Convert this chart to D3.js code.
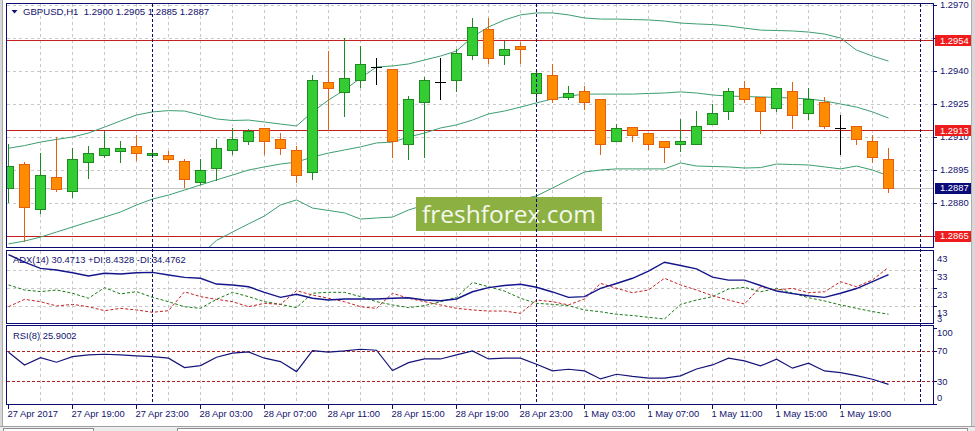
<!DOCTYPE html>
<html><head><meta charset="utf-8">
<script src="https://cdn.jsdelivr.net/npm/d3@7"></script>
<style>html,body{margin:0;padding:0;background:#fff;overflow:hidden}text{font-family:"Liberation Sans",Arial,sans-serif}</style>
</head><body><svg id="c" width="975" height="431"></svg>
<script>
// ---------------- DATA ----------------
const times = [
"27 Apr 15:00","27 Apr 16:00","27 Apr 17:00","27 Apr 18:00","27 Apr 19:00","27 Apr 20:00","27 Apr 21:00","27 Apr 22:00","27 Apr 23:00",
"28 Apr 00:00","28 Apr 01:00","28 Apr 02:00","28 Apr 03:00","28 Apr 04:00","28 Apr 05:00","28 Apr 06:00","28 Apr 07:00","28 Apr 08:00",
"28 Apr 09:00","28 Apr 10:00","28 Apr 11:00","28 Apr 12:00","28 Apr 13:00","28 Apr 14:00","28 Apr 15:00","28 Apr 16:00","28 Apr 17:00",
"28 Apr 18:00","28 Apr 19:00","28 Apr 20:00","28 Apr 21:00","28 Apr 22:00","28 Apr 23:00",
"1 May 00:00","1 May 01:00","1 May 02:00","1 May 03:00","1 May 04:00","1 May 05:00","1 May 06:00","1 May 07:00","1 May 08:00",
"1 May 09:00","1 May 10:00","1 May 11:00","1 May 12:00","1 May 13:00","1 May 14:00","1 May 15:00","1 May 16:00","1 May 17:00",
"1 May 18:00","1 May 19:00","1 May 20:00","1 May 21:00","1 May 22:00","1 May 23:00","2 May 00:00"];

const open = [1.28867,1.28976,1.28774,1.28917,1.28856,1.28988,1.29017,1.29038,1.29058,1.29017,1.29017,1.28990,1.28897,1.28958,
1.29040,1.29080,1.29140,1.29090,1.29040,1.28940,1.29349,1.29306,1.29358,1.29420,1.29408,1.29067,1.29258,1.29349,1.29358,
1.29471,1.29590,1.29471,1.29512,1.29299,1.29380,1.29280,1.29308,1.29271,1.29080,1.29147,1.29117,1.29080,1.29067,1.29067,
1.29158,1.29217,1.29321,1.29280,1.29230,1.29308,1.29208,1.29258,1.29140,1.29149,1.29080,1.29000];
const high = [1.29068,1.28988,1.29026,1.29099,1.29050,1.29060,1.29129,1.29080,1.29109,1.29045,1.29038,1.29000,1.28999,1.29091,
1.29140,1.29136,1.29142,1.29117,1.29059,1.29380,1.29491,1.29549,1.29515,1.29458,1.29410,1.29288,1.29371,1.29458,1.29499,
1.29640,1.29640,1.29538,1.29532,1.29408,1.29430,1.29330,1.29330,1.29271,1.29158,1.29147,1.29117,1.29080,1.29183,1.29220,
1.29249,1.29321,1.29353,1.29280,1.29321,1.29350,1.29321,1.29280,1.29199,1.29149,1.29108,1.29050];
const low = [1.28806,1.28629,1.28756,1.28856,1.28826,1.28915,1.29008,1.28988,1.28997,1.29008,1.28988,1.28874,1.28888,1.28905,
1.29023,1.29067,1.29024,1.29024,1.28897,1.28908,1.29132,1.29197,1.29329,1.29340,1.29008,1.28999,1.29008,1.29271,1.29308,
1.29455,1.29438,1.29430,1.29438,1.29268,1.29260,1.29271,1.29229,1.29024,1.29080,1.29080,1.29045,1.28988,1.29038,1.29067,
1.29158,1.29180,1.29258,1.29117,1.29217,1.29140,1.29180,1.29140,1.29024,1.29067,1.28988,1.28850];
const close = [1.28968,1.28783,1.28927,1.28865,1.28999,1.29026,1.29049,1.29049,1.29026,1.29026,1.28999,1.28908,1.28949,1.29049,
1.29090,1.29129,1.29080,1.29049,1.28927,1.29358,1.29321,1.29370,1.29430,1.29420,1.29080,1.29271,1.29358,1.29349,1.29480,
1.29599,1.29458,1.29499,1.29499,1.29390,1.29271,1.29299,1.29258,1.29067,1.29140,1.29108,1.29067,1.29056,1.29080,1.29149,
1.29208,1.29308,1.29271,1.29217,1.29321,1.29199,1.29271,1.29149,1.29140,1.29090,1.29008,1.28870];

const bbUpper = [1.29049,1.29061,1.29077,1.29089,1.29100,1.29118,1.29145,1.29173,1.29200,1.29214,1.29220,1.29218,1.29200,1.29182,
1.29175,1.29177,1.29168,1.29159,1.29150,1.29214,1.29268,1.29314,1.29368,1.29418,1.29423,1.29432,1.29450,1.29468,1.29491,
1.29555,1.29600,1.29632,1.29655,1.29664,1.29664,1.29655,1.29641,1.29636,1.29636,1.29634,1.29632,1.29627,1.29618,1.29614,
1.29611,1.29605,1.29595,1.29586,1.29584,1.29582,1.29577,1.29568,1.29550,1.29495,1.29468,1.29445];
const bbMiddle = [1.28614,1.28627,1.28645,1.28668,1.28691,1.28714,1.28736,1.28759,1.28791,1.28818,1.28836,1.28859,1.28882,1.28905,
1.28927,1.28950,1.28964,1.28977,1.28986,1.29009,1.29027,1.29041,1.29055,1.29073,1.29077,1.29100,1.29118,1.29141,1.29155,
1.29177,1.29205,1.29218,1.29236,1.29255,1.29273,1.29286,1.29295,1.29295,1.29295,1.29295,1.29298,1.29300,1.29305,1.29300,
1.29291,1.29286,1.29284,1.29282,1.29280,1.29277,1.29273,1.29264,1.29250,1.29236,1.29214,1.29186];
const bbLower = [null,null,null,null,null,null,null,null,null,null,null,null,
1.28564,1.28630,1.28668,1.28705,1.28741,1.28791,1.28814,1.28777,1.28766,1.28755,1.28727,1.28732,1.28736,1.28768,1.28791,
1.28795,1.28800,1.28805,1.28805,1.28809,1.28816,1.28832,1.28868,1.28905,1.28941,1.28950,1.28955,1.28955,1.28955,1.28955,
1.28982,1.28968,1.28966,1.28964,1.28959,1.28961,1.28977,1.28975,1.28973,1.28964,1.28955,1.28968,1.28950,1.28923];

const adx = [41.6,37.4,33.9,33.0,31.5,29.7,31.2,30.8,31.5,31.7,30.2,28.9,28.4,25.2,24.7,23.7,20.6,17.8,19.5,17.3,16.3,16.9,
16.9,16.9,17.3,17.6,16.3,15.9,16.9,20.9,23.2,24.4,25.1,23.4,20.8,17.8,18.2,22.8,25.5,28.4,32.4,37.3,35.5,33.6,29.0,27.4,
27.4,24.4,21.3,19.9,18.7,17.8,20.1,22.7,26.6,30.4713];
const plusDI = [24.7,21.9,21.0,21.9,20.1,17.3,23.2,19.7,21.0,17.8,15.4,12.6,11.7,16.7,20.6,18.2,15.4,13.9,12.1,20.1,20.6,
20.6,18.2,15.4,13.6,12.1,13.2,15.4,17.8,26.1,23.7,21.3,17.3,14.5,13.9,13.2,10.8,9.8,8.4,7.7,6.7,5.8,13.9,16.3,18.2,22.4,
23.4,20.9,22.8,20.2,17.6,15.8,13.6,11.7,9.9,8.4328];
const minusDI = [12.6,16.7,15.4,13.0,13.9,12.6,10.4,11.7,10.8,9.5,10.4,20.9,18.2,16.7,15.4,12.6,14.5,13.9,21.5,19.1,17.3,
15.4,12.6,11.7,20.1,17.3,15.4,13.6,11.7,10.8,10.2,10.2,8.9,16.3,15.4,13.6,16.9,25.6,22.8,20.4,21.9,28.4,24.7,21.9,18.7,
16.3,14.1,23.7,21.9,22.8,20.4,20.9,26.5,23.7,27.5,34.4762];
const rsi = [68.4,51.6,61.3,55.2,62.6,64.8,65.7,64.8,63.5,62.6,60.5,48.1,50.7,61.8,67.1,68.8,60.5,56.0,42.8,70.5,68.4,70.1,
72.3,71.0,44.1,54.7,59.5,59.5,64.8,70.1,59.5,60.5,60.5,52.5,43.7,45.9,43.7,33.1,39.3,36.4,34.1,34.1,37.1,46.3,51.6,60.5,
56.9,50.3,59.1,47.3,53.9,43.7,41.5,37.5,32.7,25.9002];

const priceTicks = [1.2970,1.2955,1.2940,1.2925,1.2910,1.2895,1.2880,1.2865];
const levels = [1.2954,1.2913,1.2865];
const bidPrice = 1.2887;
const adxTicks = [43,33,23,13,3];
const rsiTicks = [100,70,30,0];
const rsiLevels = [70,30];
const timeTickTimes = ["27 Apr 15:00","27 Apr 19:00","27 Apr 23:00","28 Apr 03:00","28 Apr 07:00","28 Apr 11:00","28 Apr 15:00",
"28 Apr 19:00","28 Apr 23:00","1 May 03:00","1 May 07:00","1 May 11:00","1 May 15:00","1 May 19:00"];
const timeTickLabels = ["27 Apr 2017","27 Apr 19:00","27 Apr 23:00","28 Apr 03:00","28 Apr 07:00","28 Apr 11:00","28 Apr 15:00",
"28 Apr 19:00","28 Apr 23:00","1 May 03:00","1 May 07:00","1 May 11:00","1 May 15:00","1 May 19:00"];
const separators = ["28 Apr 00:00","1 May 00:00","2 May 00:00"];
const symbol = "GBPUSD,H1";
const logoText = "freshforex.com";

// ---------------- LAYOUT / STYLE ----------------
const L = 7, R = 933;
const mainP = {t:4, b:248}, adxP = {t:251, b:324}, rsiP = {t:326, b:405};
const navy = "#0b0b72", txt = "#13136e", gridC = "#c8c8c8";
const FS = "9.4px";

const svg = d3.select("#c");
const x = d3.scalePoint().domain(times).range([8, 920]);
const y = d3.scaleLinear().domain([1.2860, 1.2970]).range([247, 5]);
const ya = d3.scaleLinear().domain([3, 43]).range([324, 252]);
const yr = d3.scaleLinear().domain([0, 100]).range([404, 328.3]);
const cr = v => Math.round(v) + 0.5;

// window frame
svg.append("rect").attr("x",0).attr("y",0).attr("width",975).attr("height",431).attr("fill","#fff");
svg.append("rect").attr("x",0).attr("y",0).attr("width",2).attr("height",431).attr("fill","#d8d8d8");
svg.append("line").attr("x1",2.5).attr("x2",2.5).attr("y1",0).attr("y2",426).attr("stroke","#a8a8a8");
svg.append("rect").attr("x",972).attr("y",0).attr("width",3).attr("height",431).attr("fill","#d8d8d8");
svg.append("line").attr("x1",971.5).attr("x2",971.5).attr("y1",0).attr("y2",426).attr("stroke","#b0b0b0");
svg.append("rect").attr("x",0).attr("y",426).attr("width",975).attr("height",5).attr("fill","#ececec");
svg.append("line").attr("x1",0).attr("x2",975).attr("y1",426.5).attr("y2",426.5).attr("stroke","#a0a0a0");
svg.append("rect").attr("x",3.5).attr("y",428.5).attr("width",90).attr("height",4).attr("fill","#fff").attr("stroke","#909090");
svg.append("rect").attr("x",177.5).attr("y",428.5).attr("width",790).attr("height",4).attr("fill","#fff").attr("stroke","#909090");

const defs = svg.append("defs");
[["cm",mainP],["ca",adxP],["cr",rsiP]].forEach(([id,p])=>{
  defs.append("clipPath").attr("id",id).append("rect").attr("x",L).attr("y",p.t).attr("width",R-L).attr("height",p.b-p.t);
});

// vertical grid (every 2 bars)
const vgrid = times.filter((t,i)=> i>0 && i%2===0);
[mainP, adxP, rsiP].forEach(p=>{
  svg.append("g").selectAll("line").data(vgrid).join("line")
    .attr("x1",t=>cr(x(t))).attr("x2",t=>cr(x(t))).attr("y1",p.t).attr("y2",p.b)
    .attr("stroke",gridC).attr("stroke-dasharray","3,3");
});
// horizontal grids
svg.append("g").selectAll("line").data(priceTicks).join("line")
  .attr("x1",L).attr("x2",R).attr("y1",d=>cr(y(d))).attr("y2",d=>cr(y(d)))
  .attr("stroke",gridC).attr("stroke-dasharray","3,3");
svg.append("g").selectAll("line").data(adxTicks.filter(d=>d>3&&d<43)).join("line")
  .attr("x1",L).attr("x2",R).attr("y1",d=>cr(ya(d))).attr("y2",d=>cr(ya(d)))
  .attr("stroke",gridC).attr("stroke-dasharray","3,3");

// ---------------- MAIN PANEL ----------------
const gm = svg.append("g").attr("clip-path","url(#cm)");
gm.append("line").attr("x1",L).attr("x2",R).attr("y1",cr(y(bidPrice))).attr("y2",cr(y(bidPrice))).attr("stroke","#c4c4c4");
gm.selectAll(".lvl").data(levels).join("line")
  .attr("x1",L).attr("x2",R).attr("y1",d=>cr(y(d))).attr("y2",d=>cr(y(d)))
  .attr("stroke","#c41e1e").attr("stroke-width",1.2);
const bandLine = d3.line().defined(d=>d!=null).x((d,i)=>x(times[i])+0.5).y(d=>y(d));
[bbUpper,bbMiddle,bbLower].forEach(arr=>{
  gm.append("path").attr("d",bandLine(arr)).attr("fill","none").attr("stroke","#3d9e70").attr("stroke-width",1);
});
const logoG = svg.append("g");
logoG.append("rect").attr("x",416).attr("y",197).attr("width",186).attr("height",34).attr("fill","#8db043");
logoG.append("text").attr("x",509).attr("y",222.5).attr("text-anchor","middle")
  .style("font-family","'Open Sans','Noto Sans',sans-serif").style("font-size","24.5px")
  .attr("fill","#f4f8ec").text(logoText);

// candles
const bars = open.map((o,i)=>({t:times[i],o,h:high[i],l:low[i],c:close[i]}));
const up = {fill:"#33cc33", stroke:"#1f8a1f"}, dn = {fill:"#ff8c00", stroke:"#e4600c"}, dj = {fill:"#000", stroke:"#000"};
const gc = svg.append("g").attr("clip-path","url(#cm)");
bars.forEach(d=>{
  const cx = cr(x(d.t));
  const col = d.c>d.o ? up : (d.c<d.o ? dn : dj);
  gc.append("line").attr("x1",cx).attr("x2",cx).attr("y1",Math.round(y(d.h))).attr("y2",Math.round(y(d.l))+1)
    .attr("stroke",col.stroke);
  if (d.c===d.o) {
    gc.append("line").attr("x1",cx-5.5).attr("x2",cx+5.5).attr("y1",cr(y(d.o))).attr("y2",cr(y(d.o))).attr("stroke","#000");
  } else {
    const yt = cr(y(Math.max(d.o,d.c))), yb = cr(y(Math.min(d.o,d.c)));
    gc.append("rect").attr("x",cx-5).attr("y",yt).attr("width",10).attr("height",Math.max(yb-yt,1))
      .attr("fill",col.fill).attr("stroke",col.stroke);
  }
});

// ---------------- ADX PANEL ----------------
const ga = svg.append("g").attr("clip-path","url(#ca)");
const la = d3.line().x((d,i)=>x(times[i])+0.5).y(d=>ya(d));
ga.append("path").attr("d",la(plusDI)).attr("fill","none").attr("stroke","#167a16").attr("stroke-dasharray","3,2");
ga.append("path").attr("d",la(minusDI)).attr("fill","none").attr("stroke","#c42222").attr("stroke-dasharray","3,2");
ga.append("path").attr("d",la(adx)).attr("fill","none").attr("stroke","#14148c").attr("stroke-width",1.4);

// ---------------- RSI PANEL ----------------
const gr = svg.append("g").attr("clip-path","url(#cr)");
gr.selectAll("line").data(rsiLevels).join("line")
  .attr("x1",L).attr("x2",R).attr("y1",d=>cr(yr(d))).attr("y2",d=>cr(yr(d)))
  .attr("stroke","#b02020").attr("stroke-dasharray","3,2");
const lr = d3.line().x((d,i)=>x(times[i])+0.5).y(d=>yr(d));
gr.append("path").attr("d",lr(rsi)).attr("fill","none").attr("stroke","#14147a").attr("stroke-width",1.2);

// period separators
svg.append("g").selectAll("line").data(separators).join("line")
  .attr("x1",t=>cr(x(t))).attr("x2",t=>cr(x(t))).attr("y1",mainP.t).attr("y2",rsiP.b)
  .attr("stroke",navy).attr("stroke-dasharray","3,2");

// panel borders
[mainP, adxP, rsiP].forEach(p=>{
  svg.append("rect").attr("x",L-0.5).attr("y",p.t-0.5).attr("width",R-L+1).attr("height",p.b-p.t)
    .attr("fill","none").attr("stroke",navy);
});

// ---------------- AXES ----------------
const pa = svg.append("g");
priceTicks.forEach(v=>{
  pa.append("line").attr("x1",R).attr("x2",R+4).attr("y1",cr(y(v))).attr("y2",cr(y(v))).attr("stroke",navy);
  // labels fully covered by a level box are not visible in the original
  const covered = levels.some(l => Math.abs(y(l)-y(v)) < 4);
  if (!covered) pa.append("text").attr("x",940).attr("y",y(v)).attr("dy","0.35em").attr("fill",txt).style("font-size",FS).text(v.toFixed(4));
});
levels.forEach(v=>{
  pa.append("rect").attr("x",935).attr("y",Math.round(y(v))-5).attr("width",36).attr("height",11).attr("fill","#ee1c1c");
  pa.append("text").attr("x",940).attr("y",y(v)).attr("dy","0.36em").attr("fill","#fff").style("font-size",FS).text(v.toFixed(4));
});
pa.append("rect").attr("x",935).attr("y",Math.round(y(bidPrice))-5).attr("width",36).attr("height",11).attr("fill","#0a0a78");
pa.append("text").attr("x",940).attr("y",y(bidPrice)).attr("dy","0.36em").attr("fill","#fff").style("font-size",FS).text(bidPrice.toFixed(4));

adxTicks.forEach(v=>{
  if (v<43 && v>3) svg.append("line").attr("x1",R).attr("x2",R+4).attr("y1",cr(ya(v))).attr("y2",cr(ya(v))).attr("stroke",navy);
  svg.append("text").attr("x",937).attr("y",Math.min(ya(v)+6.5, 319)).attr("dy","0.35em").attr("fill",txt).style("font-size",FS).text(v);
});
rsiTicks.forEach(v=>{
  svg.append("line").attr("x1",R).attr("x2",R+4).attr("y1",cr(yr(v))).attr("y2",cr(yr(v))).attr("stroke",navy);
  svg.append("text").attr("x",937).attr("y",Math.max(333, Math.min(398, yr(v)))).attr("dy","0.35em").attr("fill",txt).style("font-size",FS).text(v);
});
timeTickTimes.forEach((t,k)=>{
  svg.append("line").attr("x1",cr(x(t))).attr("x2",cr(x(t))).attr("y1",rsiP.b).attr("y2",rsiP.b+4).attr("stroke",navy);
  svg.append("text").attr("x",x(t)-0.5).attr("y",414).attr("dy","0.35em").attr("fill",txt).style("font-size",FS).text(timeTickLabels[k]);
});

// ---------------- HEADERS ----------------
const last = bars.length-1;
svg.append("path").attr("d","M11.5,10 L17.5,10 L14.5,13.5 Z").attr("fill",txt);
svg.append("text").attr("x",23).attr("y",12).attr("dy","0.35em").attr("fill",txt).style("font-size","9.6px").style("white-space","pre")
  .text(`${symbol}  ${open[last].toFixed(4)} ${high[last].toFixed(4)} ${low[last].toFixed(4)} ${close[last].toFixed(4)}`);
svg.append("text").attr("x",13).attr("y",259.5).attr("dy","0.35em").attr("fill",txt).style("font-size",FS)
  .text(`ADX(14) ${adx[last].toFixed(4)} +DI:${plusDI[last].toFixed(4)} -DI:${minusDI[last].toFixed(4)}`);
svg.append("text").attr("x",13).attr("y",336).attr("dy","0.35em").attr("fill",txt).style("font-size",FS)
  .text(`RSI(8) ${rsi[last].toFixed(4)}`);
</script></body></html>
